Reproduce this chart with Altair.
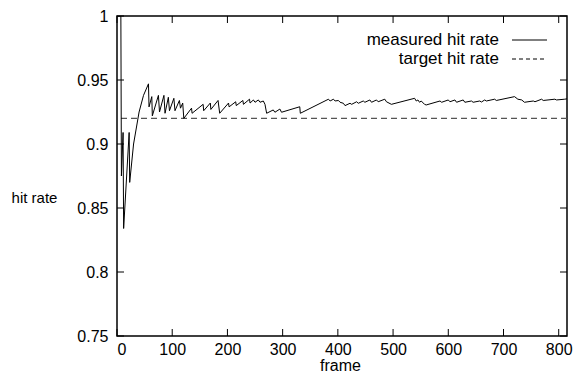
import altair as alt
import pandas as pd

# ---- data ----
frames = [1, 7, 8, 11, 12, 22, 23, 30, 40, 48,
          57, 58, 63, 64, 75, 77, 85, 87, 93, 95,
          103, 105, 113, 115, 119, 121, 135, 136, 156, 157,
          169, 170, 183, 186, 202, 203, 215, 216, 228, 229,
          240, 241, 247, 250, 256, 259, 265, 268, 271, 283,
          286, 295, 298, 331, 332, 383, 386, 392, 395, 401,
          404, 410, 413, 422, 425, 434, 437, 446, 449, 458,
          461, 470, 473, 485, 488, 497, 539, 542, 545, 548,
          551, 557, 560, 585, 588, 600, 603, 612, 615, 627,
          630, 642, 645, 657, 660, 666, 669, 684, 687, 720,
          726, 733, 738, 754, 757, 769, 772, 793, 796, 811,
          815]
hit_rate = [1.0, 1.0, 0.875, 0.909, 0.834, 0.909, 0.870, 0.900, 0.925, 0.938,
            0.947, 0.929, 0.937, 0.922, 0.938, 0.925, 0.938, 0.924, 0.9365, 0.926,
            0.9357, 0.926, 0.934, 0.928, 0.932, 0.920, 0.928, 0.924, 0.931, 0.926,
            0.932, 0.927, 0.934, 0.924, 0.932, 0.929, 0.933, 0.930, 0.934, 0.931,
            0.935, 0.932, 0.9344, 0.9326, 0.9344, 0.9326, 0.9336, 0.931, 0.924, 0.9266,
            0.9248, 0.9273, 0.9248, 0.9291, 0.924, 0.935, 0.9336, 0.935, 0.9336, 0.934,
            0.9326, 0.9318, 0.930, 0.9318, 0.931, 0.933, 0.9318, 0.9336, 0.9326, 0.9344,
            0.9326, 0.9344, 0.933, 0.935, 0.933, 0.931, 0.9357, 0.9336, 0.9344, 0.9326,
            0.9336, 0.931, 0.9305, 0.9336, 0.9326, 0.9344, 0.933, 0.9344, 0.9326, 0.9344,
            0.9326, 0.9336, 0.9326, 0.9336, 0.9328, 0.9344, 0.9336, 0.935, 0.934, 0.937,
            0.935, 0.9344, 0.9326, 0.9336, 0.933, 0.935, 0.934, 0.935, 0.9344, 0.935,
            0.9353]
target_rate = 0.92
x_ticks = [0, 100, 200, 300, 400, 500, 600, 700, 800]
y_ticks = [0.75, 0.8, 0.85, 0.9, 0.95, 1.0]
x_domain = [0, 815]
y_domain = [0.75, 1.0]
legend_labels = ["measured hit rate", "target hit rate"]
x_title = "frame"
y_title = "hit rate"

assert len(frames) == len(hit_rate)

FONT = "Liberation Sans"
FS = 16
FS_LEG = 17
W, H = 450, 320
TICK = 7

df = pd.DataFrame({"frame": frames, "rate": hit_rate})
xt = pd.DataFrame({"t": x_ticks})
yt = pd.DataFrame({"t": y_ticks})
one = pd.DataFrame({"k": [0]})

xs = alt.Scale(domain=x_domain, nice=False, zero=False)
ys = alt.Scale(domain=y_domain, nice=False, zero=False)

line = alt.Chart(df).mark_line(color="black", strokeWidth=1, clip=True).encode(
    x=alt.X("frame:Q", scale=xs,
            axis=alt.Axis(values=x_ticks, ticks=False, tickSize=0, domain=False, grid=False,
                          labelPadding=5, labelFont=FONT, labelFontSize=FS, labelColor="black",
                          title=x_title, titleFont=FONT, titleFontSize=FS, titleFontWeight="normal",
                          titleColor="black", titleX=W / 2 - 2, titleY=29, titleBaseline="middle",
                          titleAlign="center")),
    y=alt.Y("rate:Q", scale=ys,
            axis=alt.Axis(values=y_ticks, ticks=False, tickSize=0, domain=False, grid=False,
                          format="~g", labelPadding=9, labelFont=FONT, labelFontSize=FS,
                          labelColor="black",
                          title=y_title, titleFont=FONT, titleFontSize=FS - 1, titleFontWeight="normal",
                          titleColor="black", titleAngle=0, titleX=-83, titleY=181,
                          titleAlign="center", titleBaseline="middle")),
)

target = alt.Chart(one).mark_rule(color="#555555", strokeWidth=1.2, strokeDash=[6, 4]).encode(
    y=alt.datum(target_rate, type="quantitative")
)

bottom_ticks = alt.Chart(xt).mark_rule(color="black", strokeWidth=1).encode(
    x=alt.X("t:Q", scale=xs), y=alt.value(H), y2=alt.value(H - TICK))
top_ticks = alt.Chart(xt).mark_rule(color="black", strokeWidth=1).encode(
    x=alt.X("t:Q", scale=xs), y=alt.value(0), y2=alt.value(TICK))
left_ticks = alt.Chart(yt).mark_rule(color="black", strokeWidth=1).encode(
    y=alt.Y("t:Q", scale=ys), x=alt.value(0), x2=alt.value(TICK))
right_ticks = alt.Chart(yt).mark_rule(color="black", strokeWidth=1).encode(
    y=alt.Y("t:Q", scale=ys), x=alt.value(W), x2=alt.value(W - TICK))

LX_TEXT = 382
LX1, LX2 = 395, 430
LY1, LY2 = 24, 43

leg_text1 = alt.Chart(one).mark_text(text=legend_labels[0], align="right", baseline="middle",
                                     font=FONT, fontSize=FS_LEG, color="black").encode(
    x=alt.value(LX_TEXT), y=alt.value(LY1))
leg_text2 = alt.Chart(one).mark_text(text=legend_labels[1], align="right", baseline="middle",
                                     font=FONT, fontSize=FS_LEG, color="black").encode(
    x=alt.value(LX_TEXT), y=alt.value(LY2))
leg_line1 = alt.Chart(one).mark_rule(color="black", strokeWidth=1).encode(
    x=alt.value(LX1), x2=alt.value(LX2), y=alt.value(LY1))
leg_line2 = alt.Chart(one).mark_rule(color="black", strokeWidth=1, strokeDash=[4, 3]).encode(
    x=alt.value(LX1), x2=alt.value(LX2), y=alt.value(LY2))

chart = alt.layer(
    target, line, bottom_ticks, top_ticks, left_ticks, right_ticks,
    leg_text1, leg_text2, leg_line1, leg_line2
).properties(
    width=W, height=H,
    autosize=alt.AutoSizeParams(type="none"),
    padding={"left": 117, "top": 16, "right": 9, "bottom": 43},
    background="white",
).configure_view(stroke="black", strokeWidth=1.5)

chart.save("out.html", embed_options={"renderer": "svg", "actions": False})
